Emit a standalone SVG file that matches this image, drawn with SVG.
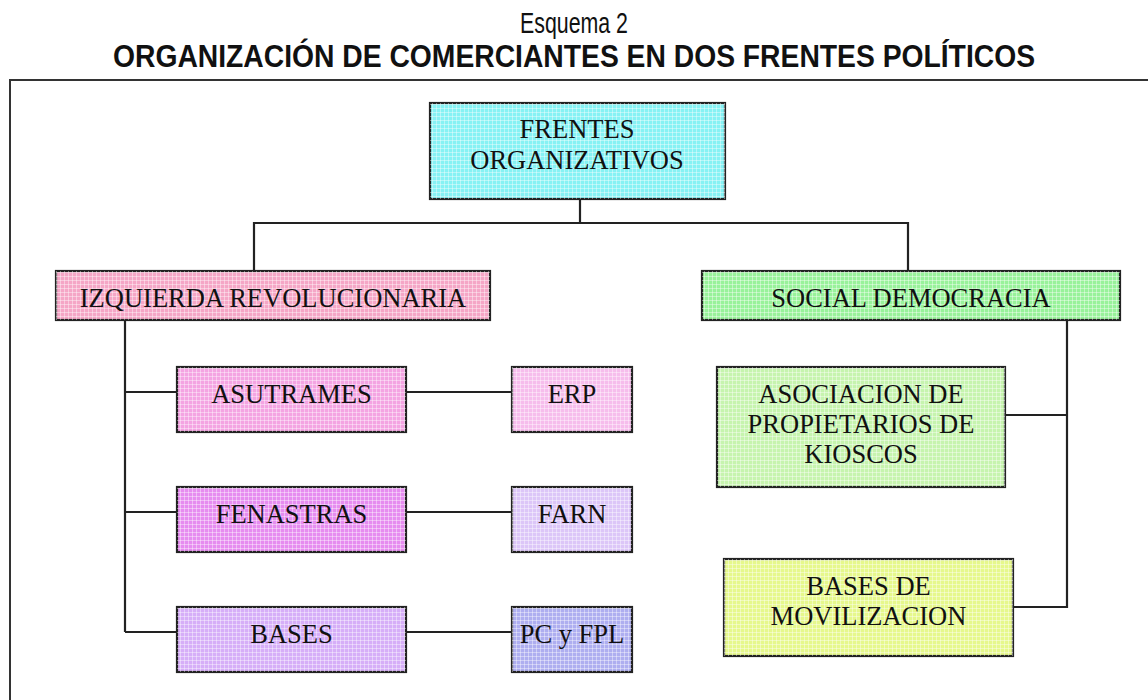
<svg xmlns="http://www.w3.org/2000/svg" width="1148" height="700" viewBox="0 0 1148 700">
<style>
.box{stroke:#222;stroke-width:2.2}
.tex{fill:url(#grid);stroke:none}
.lbl{font-family:"Liberation Serif","Times New Roman",serif;font-size:26.5px;fill:#111;text-anchor:middle}
.conn{fill:none;stroke:#222;stroke-width:2.2}
</style>
<defs>
<pattern id="grid" width="4" height="4" patternUnits="userSpaceOnUse">
<rect x="0" y="0" width="4" height="1" fill="#fff" fill-opacity="0.4"/>
<rect x="0" y="0" width="1" height="4" fill="#fff" fill-opacity="0.4"/>
</pattern>
</defs>
<rect width="1148" height="700" fill="#fff"/>
<g id="title">
<text x="574" y="33" font-family="Liberation Sans, Arial, sans-serif" font-size="29" text-anchor="middle" textLength="108" lengthAdjust="spacingAndGlyphs" fill="#111">Esquema 2</text>
<text x="574" y="67" font-family="Liberation Sans, Arial, sans-serif" font-size="32" font-weight="bold" text-anchor="middle" textLength="922" lengthAdjust="spacingAndGlyphs" fill="#111">ORGANIZACIÓN DE COMERCIANTES EN DOS FRENTES POLÍTICOS</text>
</g>
<path d="M1148,80 H10 V700" fill="none" stroke="#333" stroke-width="2"/>
<g id="connectors">
<path class="conn" d="M580,199 V223"/>
<path class="conn" d="M254,271 V223 H908 V271"/>
<path class="conn" d="M125,320 V632"/>
<path class="conn" d="M125,392 H177 M406,392 H512"/>
<path class="conn" d="M125,512 H177 M406,512 H512"/>
<path class="conn" d="M125,632 H177 M406,632 H512"/>
<path class="conn" d="M1067,320 V607 H1013 M1005,415 H1067"/>
</g>
<g id="frentes">
<rect class="box" x="430" y="103" width="295" height="96" fill="#86f2f4"/>
<rect class="tex" x="430" y="103" width="295" height="96"/>
<text class="lbl" x="577" y="138">FRENTES</text>
<text class="lbl" x="577" y="169">ORGANIZATIVOS</text>
</g>
<g id="izquierda">
<rect class="box" x="56" y="271" width="434" height="49" fill="#f5a6c6"/>
<rect class="tex" x="56" y="271" width="434" height="49"/>
<text class="lbl" x="273" y="307">IZQUIERDA REVOLUCIONARIA</text>
</g>
<g id="social">
<rect class="box" x="702" y="271" width="418" height="49" fill="#98f29a"/>
<rect class="tex" x="702" y="271" width="418" height="49"/>
<text class="lbl" x="911" y="307">SOCIAL DEMOCRACIA</text>
</g>
<g id="asutrames">
<rect class="box" x="177" y="367" width="229" height="65" fill="#f4a4e2"/>
<rect class="tex" x="177" y="367" width="229" height="65"/>
<text class="lbl" x="291.5" y="403">ASUTRAMES</text>
</g>
<g id="erp">
<rect class="box" x="512" y="367" width="120" height="65" fill="#f6bdec"/>
<rect class="tex" x="512" y="367" width="120" height="65"/>
<text class="lbl" x="572" y="403">ERP</text>
</g>
<g id="fenastras">
<rect class="box" x="177" y="487" width="229" height="65" fill="#e68cf0"/>
<rect class="tex" x="177" y="487" width="229" height="65"/>
<text class="lbl" x="291.5" y="523">FENASTRAS</text>
</g>
<g id="farn">
<rect class="box" x="512" y="487" width="120" height="65" fill="#dcc6f8"/>
<rect class="tex" x="512" y="487" width="120" height="65"/>
<text class="lbl" x="572" y="523">FARN</text>
</g>
<g id="bases">
<rect class="box" x="177" y="607" width="229" height="65" fill="#d6aef8"/>
<rect class="tex" x="177" y="607" width="229" height="65"/>
<text class="lbl" x="291.5" y="643">BASES</text>
</g>
<g id="pcfpl">
<rect class="box" x="512" y="607" width="120" height="65" fill="#aeaef0"/>
<rect class="tex" x="512" y="607" width="120" height="65"/>
<text class="lbl" x="572" y="643">PC y FPL</text>
</g>
<g id="asociacion">
<rect class="box" x="717" y="367" width="288" height="120" fill="#c6f4ae"/>
<rect class="tex" x="717" y="367" width="288" height="120"/>
<text class="lbl" x="861" y="403">ASOCIACION DE</text>
<text class="lbl" x="861" y="433">PROPIETARIOS DE</text>
<text class="lbl" x="861" y="463">KIOSCOS</text>
</g>
<g id="movilizacion">
<rect class="box" x="724" y="559" width="289" height="97" fill="#e6f88c"/>
<rect class="tex" x="724" y="559" width="289" height="97"/>
<text class="lbl" x="868.5" y="595">BASES DE</text>
<text class="lbl" x="868.5" y="625">MOVILIZACION</text>
</g>
</svg>
